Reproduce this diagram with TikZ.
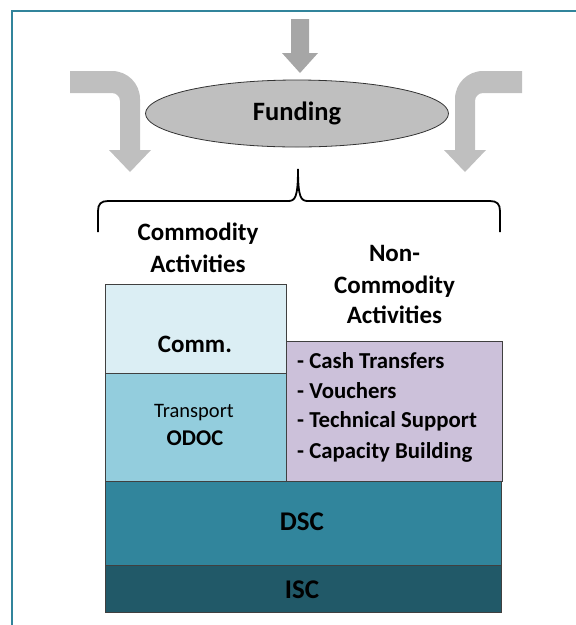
\documentclass[tikz,border=0pt]{standalone}
\usepackage{fontspec}
\setmainfont{Carlito}
\usetikzlibrary{shapes.geometric}
\definecolor{frameteal}{HTML}{31849B}
\definecolor{commfill}{HTML}{DBEEF4}
\definecolor{odocfill}{HTML}{93CDDD}
\definecolor{noncommfill}{HTML}{CCC1DA}
\definecolor{dscfill}{HTML}{31859C}
\definecolor{iscfill}{HTML}{215968}
\definecolor{toparrow}{HTML}{A6A6A6}
\definecolor{sidearrow}{HTML}{BFBFBF}
\tikzset{
  layer/.style={draw=black!75, line width=1pt},
  bold/.style={font=\fontsize{25}{30}\selectfont\bfseries},
  small/.style={font=\fontsize{20.5}{24}\selectfont},
  item/.style={font=\fontsize{22.8}{27}\selectfont\bfseries, anchor=base west, inner sep=0pt},
}

\begin{document}
\begin{tikzpicture}[x=1pt,y=-1pt]
				  \clip (0,0) rectangle (576,625);
				  %FRAME
				  \draw[frameteal, line width=2pt] (12,11) rectangle (600,650);
				  %ARROWS
				  \fill[toparrow] (291,19) -- (309,19) -- (309,53) -- (318,53) -- (300,73) -- (282,53) -- (291,53) -- cycle;
				  \fill[sidearrow] (70,71) -- (112,71) .. controls (127.5,71) and (140,83.5) .. (140,99) -- (140,150) -- (151,150) -- (130,172) -- (109,150) -- (120,150) -- (120,101) .. controls (120,96.6) and (116.4,93) .. (112,93) -- (70,93) -- cycle;
				  \fill[sidearrow] (522,71) -- (483,71) .. controls (467.5,71) and (455,83.5) .. (455,99) -- (455,150) -- (444,150) -- (465,172) -- (486,150) -- (475,150) -- (475,101) .. controls (475,96.6) and (478.6,93) .. (483,93) -- (522,93) -- cycle;
				  %FUNDING
				  \node[ellipse, draw=black!80, line width=0.8pt, fill=sidearrow, minimum width=303pt, minimum height=67pt, bold, font=\fontsize{26.5}{31}\selectfont\bfseries] (funding) at (297,113.5) {Funding};
				  %BRACE
				  \draw[line width=1.8pt] (98,232) -- (98,211) .. controls (98,204) and (101,201) .. (108,201) -- (288,201) .. controls (295,201) and (298,198) .. (298,169) .. controls (298,198) and (301,201) .. (308,201) -- (490,201) .. controls (497,201) and (500,204) .. (500,211) -- (500,232);
				  %HEADINGS
				  \node[bold, anchor=base] (commhead1) at (198,240) {Commodity};
				  \node[bold, anchor=base] (commhead2) at (198,272) {Activities};
				  \node[bold, anchor=base] (nchead1) at (394.5,261) {Non-};
				  \node[bold, anchor=base] (nchead2) at (394.5,293) {Commodity};
				  \node[bold, anchor=base] (nchead3) at (394.5,323) {Activities};
				  %LAYERS
				  \draw[layer, fill=commfill] (105,284) rectangle (286,373);
				  \draw[layer, fill=odocfill] (105,373) rectangle (286,481);
				  \draw[layer, fill=noncommfill] (286,341) rectangle (502,481);
				  \draw[layer, fill=dscfill] (105,481) rectangle (501,565);
				  \draw[layer, fill=iscfill] (105,565) rectangle (501,612);
				  %LABELS
				  \node[bold, anchor=base] (comm) at (195,352) {Comm.};
				  \node[small, anchor=base] (transport) at (194,417) {Transport};
				  \node[bold, anchor=base, font=\fontsize{22.5}{27}\selectfont\bfseries] (odoc) at (195,445) {ODOC};
				  \node[item] (cash) at (297,368) {- Cash Transfers};
				  \node[item] (vouchers) at (297,398) {- Vouchers};
				  \node[item] (techsupport) at (297,427) {- Technical Support};
				  \node[item] (capacity) at (297,458) {- Capacity Building};
				  \node[bold, anchor=base, font=\fontsize{27}{32}\selectfont\bfseries] (dsc) at (302,530) {DSC};
				  \node[bold, anchor=base, font=\fontsize{27}{32}\selectfont\bfseries] (isc) at (302,598) {ISC};
\end{tikzpicture}
\end{document}
